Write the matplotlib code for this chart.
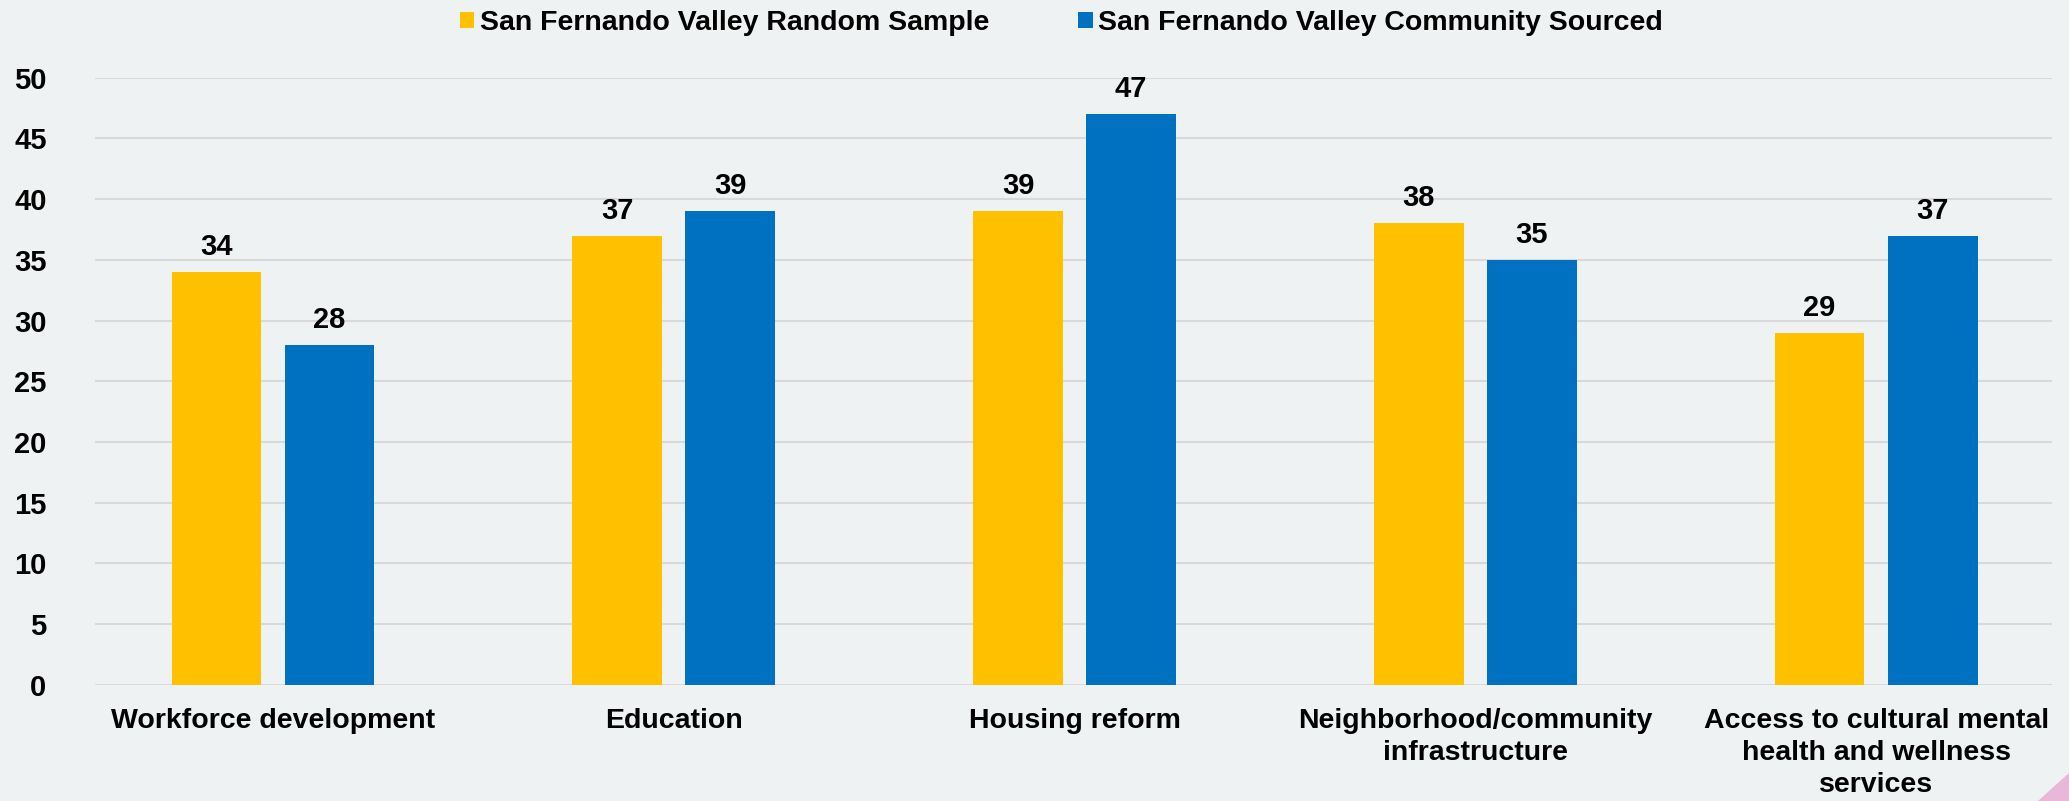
import numpy as np
import matplotlib.pyplot as plt
from matplotlib.patches import Polygon

plt.rcParams['font.family'] = ['Liberation Sans', 'DejaVu Sans']
plt.rcParams['font.weight'] = 'bold'

categories = ['Workforce development', 'Education', 'Housing reform',
              'Neighborhood/community\ninfrastructure',
              'Access to cultural mental\nhealth and wellness\nservices']
series_names = ['San Fernando Valley Random Sample',
                'San Fernando Valley Community Sourced']
random_sample = [34, 37, 39, 38, 29]
community_sourced = [28, 39, 47, 35, 37]
yticks = [0, 5, 10, 15, 20, 25, 30, 35, 40, 45, 50]

bg = '#EFF2F3'
yellow = '#FFC000'
blue = '#0070C0'

fig = plt.figure(figsize=(20.69, 8.01), dpi=100, facecolor=bg)
ax = fig.add_axes([0.046, 0.145, 0.946, 0.758], facecolor=bg)

x = np.arange(len(categories))
w = 0.224
off = 0.141
b1 = ax.bar(x - off, random_sample, w, color=yellow, label=series_names[0], zorder=3)
b2 = ax.bar(x + off, community_sourced, w, color=blue, label=series_names[1], zorder=3)

for bars, vals in ((b1, random_sample), (b2, community_sourced)):
    for r, v in zip(bars, vals):
        ax.annotate(str(v), (r.get_x() + r.get_width() / 2, v),
                    xytext=(0, 11), textcoords='offset pixels',
                    ha='center', va='bottom', fontsize=21, fontweight='bold')

ax.set_xlim(-0.444, 4.44)
ax.set_ylim(0, 50)
ax.set_yticks(yticks)
ax.set_yticklabels([str(t) for t in yticks], fontsize=21, fontweight='bold')
ax.set_xticks(x)
ax.set_xticklabels(categories, fontsize=20.5, fontweight='bold', linespacing=1.3)
ax.tick_params(axis='both', length=0)
ax.tick_params(axis='x', pad=17)
ax.tick_params(axis='y', pad=35)
ax.grid(axis='y', color='#D9D9D9', linewidth=1.5, zorder=0)
for s in ax.spines.values():
    s.set_visible(False)

ax.legend(loc='center', bbox_to_anchor=(0.4936, 1.09), ncol=2, frameon=False,
          handlelength=0.52, handleheight=0.52, handletextpad=0.2,
          columnspacing=3.1, prop={'weight': 'bold', 'size': 20.5})

# small pink corner mark
fig.patches.append(Polygon([[1.0, 0.0], [0.985, 0.0], [1.0, 0.035]], closed=True,
                           transform=fig.transFigure, facecolor='#E9B7D9',
                           edgecolor='none'))

fig.savefig('out.png', dpi=100, facecolor=bg)
